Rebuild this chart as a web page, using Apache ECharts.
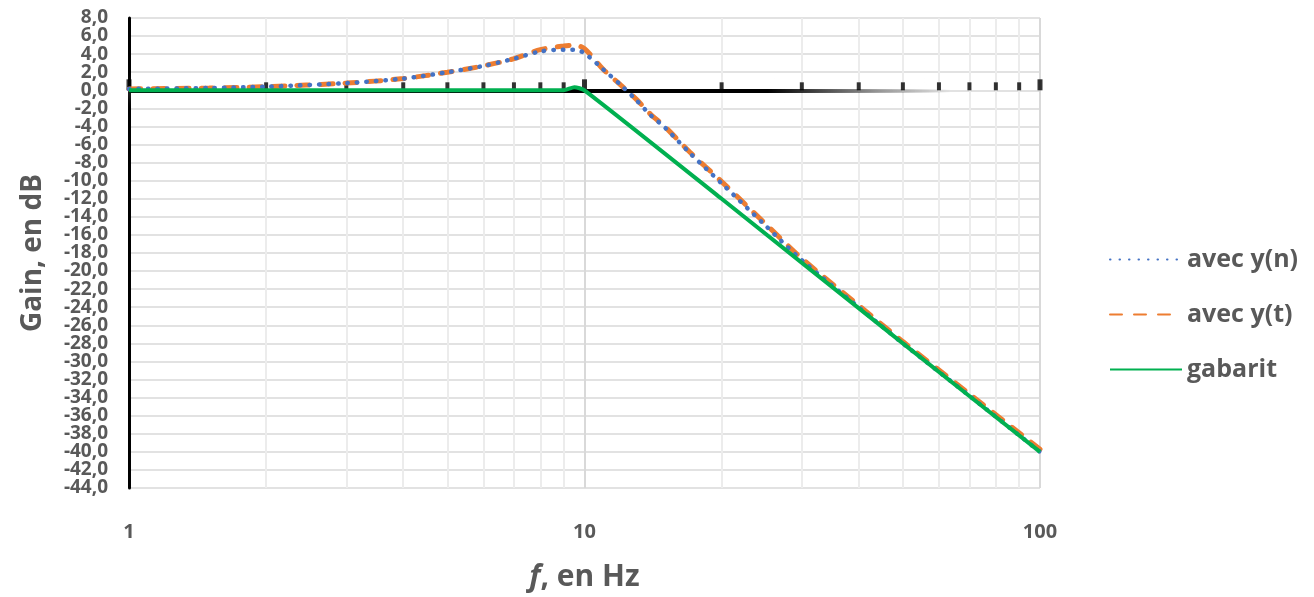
<!DOCTYPE html>
<html>
<head>
<meta charset="utf-8">
<script src="https://cdn.jsdelivr.net/npm/echarts@6/dist/echarts.min.js"></script>
<style>
  html, body { margin: 0; padding: 0; background: #fff; }
  #chart { width: 1314px; height: 597px; }
</style>
</head>
<body>
<div id="chart"></div>
<script>
// fréquences (Hz) et gains
const freqs = [1, 1.5, 2, 3, 4, 5, 6, 7, 8, 9, 9.5, 10, 11, 12, 13, 14, 15, 17, 20, 25, 30, 40, 50, 70, 100]
const gainN = [0.15, 0.25, 0.4, 0.8, 1.3, 2.0, 2.7, 3.5, 4.3, 4.5, 4.5, 4.1, 2.3, 0.6, -1.1, -2.8, -4.1, -6.9, -10.3, -15.0, -18.8, -24.0, -28.0, -33.8, -40.0]
const gainT = [0.15, 0.25, 0.4, 0.8, 1.3, 2.0, 2.7, 3.5, 4.5, 4.9, 5.0, 4.6, 2.3, 0.6, -1.0, -2.7, -4.0, -6.8, -10.1, -14.8, -18.6, -23.8, -27.8, -33.6, -39.7]

const gabaritFreqs = [1, 2, 5, 9, 9.5, 10, 20, 50, 100]
const gabaritGain = [0, 0, 0, 0, 0.35, 0, -12.0, -28.0, -40.0]

// graduations de l'axe des fréquences
const majorTicks = [1, 10, 100]
const minorTicks = [2, 3, 4, 5, 6, 7, 8, 9, 20, 30, 40, 50, 60, 70, 80, 90]

const gainMin = -44
const gainMax = 8
const gainStep = 2

const pair = (xs, ys) => xs.map((x, i) => [x, ys[i]])
const fmtGain = v => v.toFixed(1).replace('.', ',')
// les étiquettes sont réparties sur deux axes superposés pour qu'aucune ne soit masquée
const isEvenLabel = v => Math.round((v - gainMin) / gainStep) % 2 === 0

const labelColor = '#595959'
const fontFamily = '"Open Sans", "Noto Sans", sans-serif'

const chart = echarts.init(document.getElementById('chart'))

const yLabel = (keep) => ({
  margin: 21,
  fontSize: 19,
  fontWeight: 'bold',
  color: labelColor,
  showMinLabel: true,
  showMaxLabel: true,
  formatter: v => (isEvenLabel(v) === keep ? fmtGain(v) : '')
})

const option = {
  animation: false,
  textStyle: { fontFamily },
  grid: { left: 129, right: 274, top: 18, bottom: 107 },
  legend: {
    data: ['avec y(n)', 'avec y(t)', 'gabarit'],
    orient: 'vertical',
    left: 1104,
    top: 242,
    itemWidth: 72,
    itemHeight: 14,
    itemGap: 30,
    itemStyle: { opacity: 0 },
    textStyle: { fontSize: 25, fontWeight: 'bold', color: labelColor, fontFamily }
  },
  xAxis: {
    type: 'log',
    logBase: 10,
    min: 1,
    max: 100,
    axisLine: { show: false },
    axisTick: { show: false },
    axisLabel: {
      margin: 34,
      fontSize: 20,
      fontWeight: 'bold',
      color: labelColor
    },
    splitLine: { show: true, lineStyle: { color: '#d9d9d9', width: 2 } },
    name: '{i|f}{n|, en Hz}',
    nameLocation: 'middle',
    nameGap: 74,
    nameTextStyle: {
      rich: {
        i: { fontSize: 30, fontWeight: 'bold', fontStyle: 'italic', color: labelColor, fontFamily },
        n: { fontSize: 30, fontWeight: 'bold', color: labelColor, fontFamily }
      }
    }
  },
  yAxis: [
    {
      type: 'value',
      position: 'left',
      min: gainMin,
      max: gainMax,
      interval: gainStep,
      axisLine: { show: true, onZero: false, lineStyle: { color: '#000', width: 3 } },
      axisTick: { show: false },
      axisLabel: yLabel(true),
      splitLine: { show: true, lineStyle: { color: '#d9d9d9', width: 1.5 } },
      name: 'Gain, en dB',
      nameLocation: 'middle',
      nameRotate: 90,
      nameGap: 82,
      nameTextStyle: { fontSize: 28, fontWeight: 'bold', color: labelColor }
    },
    {
      type: 'value',
      position: 'left',
      offset: 0,
      min: gainMin,
      max: gainMax,
      interval: gainStep,
      axisLine: { show: false, onZero: false },
      axisTick: { show: false },
      axisLabel: yLabel(false),
      splitLine: { show: false }
    }
  ],
  series: [
    {
      // grille secondaire + axe horizontal à 0 dB
      name: 'grille',
      type: 'line',
      data: [],
      z: 1,
      silent: true,
      markLine: {
        z: 1,
        silent: true,
        symbol: 'none',
        label: { show: false },
        animation: false,
        data: [
          ...minorTicks.map(f => ({ xAxis: f, lineStyle: { color: '#ececec', width: 2, type: 'solid' } })),
          {
            yAxis: 0,
            lineStyle: {
              width: 4,
              type: 'solid',
              shadowColor: 'rgba(255,255,255,1)',
              shadowBlur: 14,
              color: new echarts.graphic.LinearGradient(0, 0, 1, 0, [
                { offset: 0, color: 'rgba(0,0,0,1)' },
                { offset: 0.7, color: 'rgba(0,0,0,1)' },
                { offset: 0.82, color: 'rgba(0,0,0,0.35)' },
                { offset: 0.9, color: 'rgba(0,0,0,0)' },
                { offset: 1, color: 'rgba(0,0,0,0)' }
              ])
            }
          }
        ]
      }
    },
    {
      name: 'ticks',
      type: 'scatter',
      z: 1.5,
      silent: true,
      symbol: 'rect',
      symbolSize: [4, 8],
      symbolOffset: [0, '-50%'],
      itemStyle: { color: '#000' },
      data: minorTicks.map(f => [f, 0])
    },
    {
      name: 'ticksMajor',
      type: 'scatter',
      z: 1.5,
      silent: true,
      symbol: 'rect',
      symbolSize: [5, 11],
      symbolOffset: [0, '-50%'],
      itemStyle: { color: '#000' },
      data: majorTicks.map(f => [f, 0])
    },
    {
      name: 'avec y(n)',
      type: 'line',
      z: 3,
      smooth: 0.3,
      symbol: 'none',
      data: pair(freqs, gainN),
      itemStyle: { color: '#4472c4' },
      lineStyle: { color: '#4472c4', width: 4.5, type: [0.5, 9], cap: 'round' }
    },
    {
      name: 'avec y(t)',
      type: 'line',
      z: 2,
      smooth: 0.3,
      symbol: 'none',
      data: pair(freqs, gainT),
      itemStyle: { color: '#ed7d31' },
      lineStyle: { color: '#ed7d31', width: 5, type: [12, 12], cap: 'round' }
    },
    {
      name: 'gabarit',
      type: 'line',
      z: 4,
      smooth: 0.2,
      symbol: 'none',
      data: pair(gabaritFreqs, gabaritGain),
      itemStyle: { color: '#00b050' },
      lineStyle: { color: '#00b050', width: 4 }
    }
  ]
}

chart.setOption(option)
</script>
</body>
</html>
